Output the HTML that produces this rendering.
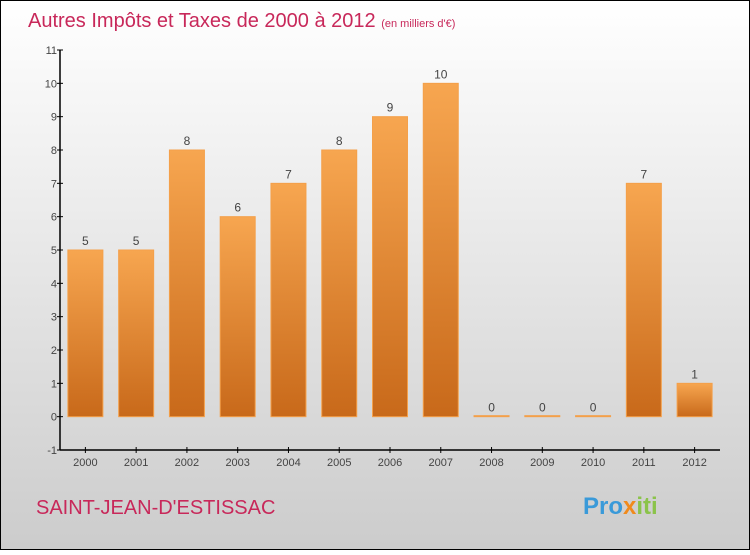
<!DOCTYPE html>
<html><head><meta charset="utf-8"><style>
body{margin:0;width:750px;height:550px;overflow:hidden;font-family:"Liberation Sans",sans-serif}
</style></head><body>
<svg width="750" height="550" xmlns="http://www.w3.org/2000/svg">
<defs>
<linearGradient id="bg" x1="0" y1="0" x2="0" y2="1"><stop offset="0" stop-color="#ffffff"/><stop offset="1" stop-color="#cccccc"/></linearGradient>
<linearGradient id="bar" x1="0" y1="0" x2="0" y2="1"><stop offset="0" stop-color="#f7a650"/><stop offset="1" stop-color="#c8691a"/></linearGradient>
</defs>
<rect x="0.5" y="0.5" width="749" height="549" fill="url(#bg)" stroke="#000"/>
<text x="28" y="27" font-size="20" fill="#c8285a">Autres Impôts et Taxes de 2000 à 2012 <tspan font-size="11">(en milliers d'€)</tspan></text>
<g id="axes"></g>
<g id="bars"></g>
<text x="36" y="514" font-size="20" fill="#c8285a">SAINT-JEAN-D'ESTISSAC</text>
<text x="583" y="514" font-size="24" font-weight="bold" fill="#3a9ad9">Pro<tspan fill="#f08a1c">x</tspan><tspan fill="#8bc34a">iti</tspan></text>
</svg>
<script>
const categories=["2000","2001","2002","2003","2004","2005","2006","2007","2008","2009","2010","2011","2012"];
const values=[5,5,8,6,7,8,9,10,0,0,0,7,1];
const yTicks=[-1,0,1,2,3,4,5,6,7,8,9,10,11];
const NS="http://www.w3.org/2000/svg";
const x0=60,x1=720,yMin=-1,yMax=11,yTop=50,yBot=450;
const band=(x1-x0)/categories.length;
const y=v=>yBot-(v-yMin)/(yMax-yMin)*(yBot-yTop);
const xc=i=>x0+band*(i+0.5);
function mk(t,a,p){const e=document.createElementNS(NS,t);for(const k in a)e.setAttribute(k,a[k]);p.appendChild(e);return e;}
const ax=document.getElementById('axes'),bs=document.getElementById('bars');
let l=mk('line',{x1:x0,y1:yTop,x2:x0,y2:yBot,stroke:'#000','stroke-width':1.5},ax);


l=mk('line',{x1:x0,y1:yBot,x2:x1,y2:yBot,stroke:'#000','stroke-width':1.5},ax);


yTicks.forEach(v=>{
 const t=mk('line',{x1:x0-3,y1:y(v),x2:x0+3,y2:y(v),stroke:'#000'},ax);
 
 
 const tx=mk('text',{x:x0-3,y:y(v)+4,'font-size':11,fill:'#444','text-anchor':'end'},ax);
 tx.textContent=v;
 
 
});
categories.forEach((c,i)=>{
 const cx=xc(i);
 const t=mk('line',{x1:cx,y1:yBot-3,x2:cx,y2:yBot+3,stroke:'#000'},ax);
 
 
 const tx=mk('text',{x:cx,y:yBot+16,'font-size':11,fill:'#444','text-anchor':'middle'},ax);
 tx.textContent=c;
 
 
 const v=values[i];
 const top=y(v),h=Math.max(y(0)-top,1);
 const r=mk('rect',{x:cx-17.5,y:v>0?top:y(0)-1,width:35,height:h,fill:'url(#bar)',stroke:'#f4a04a','stroke-width':1},bs);
 
 
 const lb=mk('text',{x:cx,y:(v>0?top:y(0))-5,'font-size':12,fill:'#444','text-anchor':'middle'},bs);
 lb.textContent=v;
 
 
});
</script>
</body></html>
